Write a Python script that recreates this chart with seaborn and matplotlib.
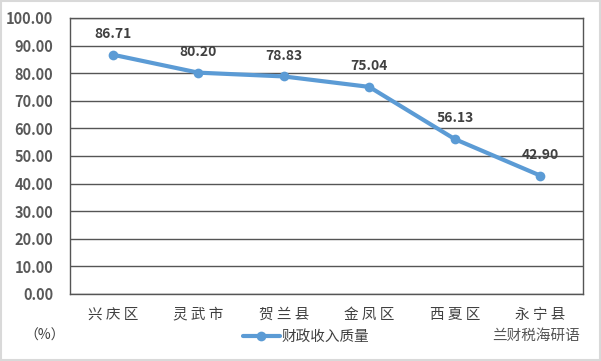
import numpy as np
import pandas as pd
import matplotlib.pyplot as plt
import seaborn as sns
from matplotlib.patches import Rectangle

districts = ["兴 庆 区", "灵 武 市", "贺 兰 县", "金 凤 区", "西 夏 区", "永 宁 县"]
quality = [86.71, 80.20, 78.83, 75.04, 56.13, 42.90]
y_ticks = [0, 10, 20, 30, 40, 50, 60, 70, 80, 90, 100]
series_name = "财政收入质量"

sns.set_theme(style="white")
plt.rcParams['font.family'] = ['Noto Sans CJK SC', 'DejaVu Sans']

df = pd.DataFrame({"district": districts, "value": quality, "idx": range(len(districts))})

fig = plt.figure(figsize=(6.01, 3.61), dpi=100)
ax = fig.add_axes([70 / 601, 1 - 294 / 361, 513 / 601, 276 / 361])

line_color = "#5b9bd5"
sns.lineplot(data=df, x="idx", y="value", ax=ax, color=line_color, linewidth=3,
             marker="o", markersize=7, markeredgewidth=0, label=series_name, legend=False)

ax.set_xlim(-0.5, len(districts) - 0.5)
ax.set_ylim(0, 100)
ax.set_yticks(y_ticks)
ax.set_yticklabels([f"{v:.2f}" for v in y_ticks], fontsize=10.5, color="#595959", fontweight="bold")
ax.set_xticks(range(len(districts)))
ax.set_xticklabels(districts, fontsize=10.5, color="#404040")
ax.tick_params(axis="x", pad=10, length=0)
ax.tick_params(axis="y", pad=12, length=0)
ax.set_xlabel("")
ax.set_ylabel("")
ax.grid(axis="y", color="#555555", linewidth=1)
ax.set_axisbelow(True)
for s in ax.spines.values():
    s.set_color("#555555")
    s.set_linewidth(1)

for i, v in enumerate(quality):
    ax.annotate(f"{v:.2f}", (i, v), xytext=(0, 10), textcoords="offset points",
                ha="center", va="bottom", fontsize=10, fontweight="bold", color="#404040")

fig.text(45 / 601, 1 - 336 / 361, "（%）", ha="center", va="center", fontsize=10, color="#404040")
leg = ax.legend(loc="center", bbox_to_anchor=(0.46, -0.155), frameon=False,
                fontsize=10.5, handlelength=2.5, handletextpad=0.1)
for t in leg.get_texts():
    t.set_color("#404040")
fig.text(492 / 601, 1 - 336 / 361, "兰财税海研语", ha="left", va="center", fontsize=10.5, color="#555555")

fig.patches.append(Rectangle((0.002, 0.003), 0.996, 0.994, transform=fig.transFigure,
                             fill=False, edgecolor="#d9d9d9", linewidth=1.5))

fig.savefig("out.png", dpi=100)
